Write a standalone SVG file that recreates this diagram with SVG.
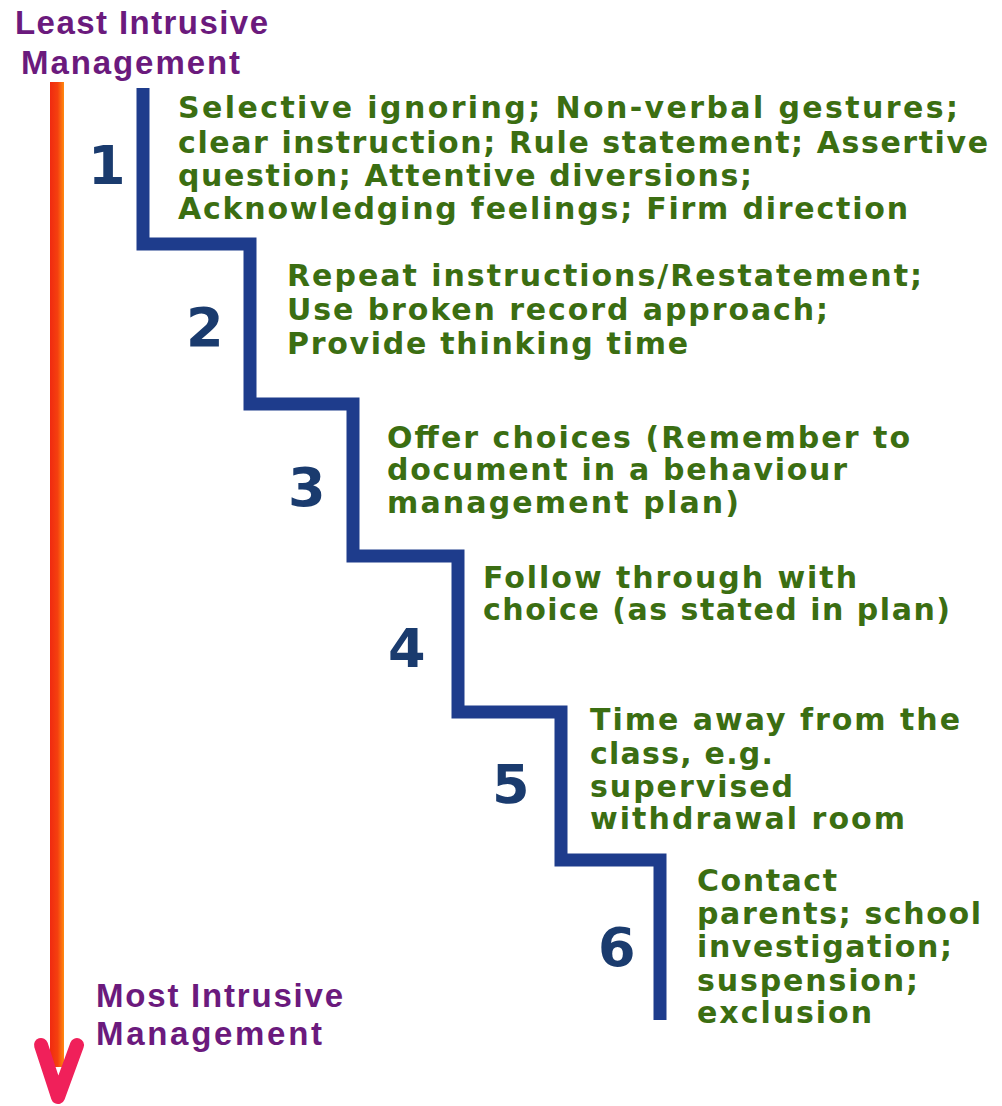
<svg xmlns="http://www.w3.org/2000/svg" width="1002" height="1106" viewBox="0 0 1002 1106">
<defs>
<linearGradient id="og" x1="0" x2="1" y1="0" y2="0">
<stop offset="0" stop-color="#f02a10"/><stop offset="0.55" stop-color="#f5400f"/><stop offset="1" stop-color="#ff8a10"/>
</linearGradient>
</defs>
<style>
.lbl{font-family:"Liberation Sans",Arial,sans-serif;font-weight:bold;font-size:33px;fill:#6b1a7d}
.txt{font-family:"DejaVu Sans",Verdana,sans-serif;font-weight:bold;font-size:30px;fill:#3b6e12}
.num{font-family:"DejaVu Sans",Verdana,sans-serif;font-weight:bold;font-size:54px;fill:#1a3b6e}
.stair{fill:none;stroke:#1e3c8c;stroke-width:13;stroke-linejoin:miter}
</style>
<rect width="1002" height="1106" fill="#ffffff"/>
<g id="connectors">
<rect x="50" y="82" width="14" height="985" fill="url(#og)"/>
<path d="M41,1045 L58,1097 L77,1045" fill="none" stroke="#f0205a" stroke-width="14" stroke-linecap="round" stroke-linejoin="round"/>
<path class="stair" d="M143,88 V244 H250 V404 H353 V556 H458 V712 H561 V860 H660 V1020"/>
</g>
<g id="label-least"><text class="lbl" x="15" y="34" textLength="253" lengthAdjust="spacing">Least Intrusive</text><text class="lbl" x="21" y="74" textLength="219" lengthAdjust="spacing">Management</text></g>
<g id="label-most"><text class="lbl" x="96" y="1007" textLength="247" lengthAdjust="spacing">Most Intrusive</text><text class="lbl" x="96" y="1045" textLength="226" lengthAdjust="spacing">Management</text></g>
<g id="step1"><text class="num" x="88" y="184">1</text>
<text class="txt" x="178" y="118" textLength="780" lengthAdjust="spacing">Selective ignoring; Non-verbal gestures;</text>
<text class="txt" x="178" y="153" textLength="810" lengthAdjust="spacing">clear instruction; Rule statement; Assertive</text>
<text class="txt" x="178" y="186" textLength="574" lengthAdjust="spacing">question; Attentive diversions;</text>
<text class="txt" x="178" y="219" textLength="730" lengthAdjust="spacing">Acknowledging feelings; Firm direction</text></g>
<g id="step2"><text class="num" x="186" y="346">2</text>
<text class="txt" x="287" y="286" textLength="635" lengthAdjust="spacing">Repeat instructions/Restatement;</text>
<text class="txt" x="287" y="320" textLength="541" lengthAdjust="spacing">Use broken record approach;</text>
<text class="txt" x="287" y="354" textLength="401" lengthAdjust="spacing">Provide thinking time</text></g>
<g id="step3"><text class="num" x="288" y="506">3</text>
<text class="txt" x="387" y="448" textLength="523" lengthAdjust="spacing">Offer choices (Remember to</text>
<text class="txt" x="387" y="480" textLength="460" lengthAdjust="spacing">document in a behaviour</text>
<text class="txt" x="387" y="513" textLength="352" lengthAdjust="spacing">management plan)</text></g>
<g id="step4"><text class="num" x="388" y="667">4</text>
<text class="txt" x="483" y="588" textLength="374" lengthAdjust="spacing">Follow through with</text>
<text class="txt" x="483" y="620" textLength="467" lengthAdjust="spacing">choice (as stated in plan)</text></g>
<g id="step5"><text class="num" x="492" y="803">5</text>
<text class="txt" x="590" y="730" textLength="370" lengthAdjust="spacing">Time away from the</text>
<text class="txt" x="590" y="764" textLength="183" lengthAdjust="spacing">class, e.g.</text>
<text class="txt" x="590" y="797" textLength="203" lengthAdjust="spacing">supervised</text>
<text class="txt" x="590" y="829" textLength="315" lengthAdjust="spacing">withdrawal room</text></g>
<g id="step6"><text class="num" x="598" y="966">6</text>
<text class="txt" x="697" y="891" textLength="140" lengthAdjust="spacing">Contact</text>
<text class="txt" x="697" y="924" textLength="284" lengthAdjust="spacing">parents; school</text>
<text class="txt" x="697" y="957" textLength="255" lengthAdjust="spacing">investigation;</text>
<text class="txt" x="697" y="991" textLength="221" lengthAdjust="spacing">suspension;</text>
<text class="txt" x="697" y="1023" textLength="175" lengthAdjust="spacing">exclusion</text></g>
</svg>
